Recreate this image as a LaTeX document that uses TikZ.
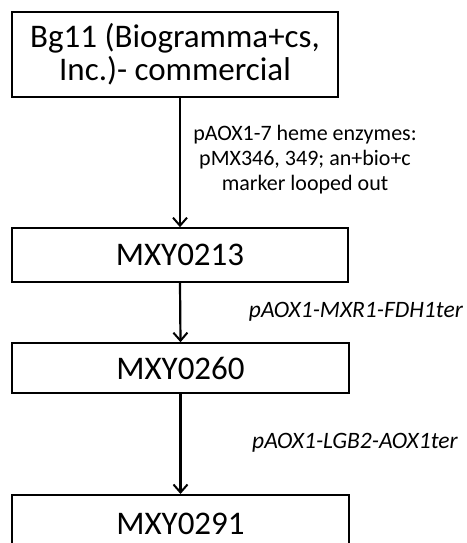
\documentclass[tikz,border=0pt]{standalone}
\usepackage{fontspec}
\setmainfont{Carlito}
\usetikzlibrary{arrows.meta}
\begin{document}
\begin{tikzpicture}[x=1pt,y=1pt,
  strain/.style={draw=black, line width=1.6pt, inner sep=0pt, align=center,
    font=\fontsize{33}{33}\selectfont},
  flow/.style={line width=2.2pt, -{Straight Barb[length=8pt,width=14pt,line width=2pt]}},
  note/.style={font=\fontsize{22}{25}\selectfont, align=center, inner sep=0pt},
  inote/.style={font=\fontsize{23.5}{26}\selectfont\itshape, inner sep=0pt}]
\useasboundingbox (0,0) rectangle (466,-543);
\clip (0,0) rectangle (466,-543);
\node[strain, minimum width=326pt, minimum height=85pt] (b1) at (175,-54.5)
  {Bg11 (Biogramma+cs,\\Inc.)- commercial};
\node[strain, minimum width=336pt, minimum height=54pt] (b2) at (180,-255) {MXY0213};
\node[strain, minimum width=337pt, minimum height=50pt] (b3) at (180.5,-368) {MXY0260};
\node[strain, minimum width=337pt, minimum height=58pt, anchor=north] (b4) at (180.5,-494) {MXY0291};
\draw[flow] (b1.south -| b2.north) -- (b2.north);
\draw[flow] (b2.south) -- (b3.north);
\draw[flow] (b3.south) -- (b4.north);
\node[note] (l1) at (305,-160) {pAOX1-7 heme enzymes:\\pMX346, 349; an+bio+c\\marker looped out};
\node[inote, anchor=east] (l2) at (463,-312) {pAOX1-MXR1-FDH1ter};
\node[inote, anchor=west] (l3) at (252,-443) {pAOX1-LGB2-AOX1ter};
\end{tikzpicture}
\end{document}
